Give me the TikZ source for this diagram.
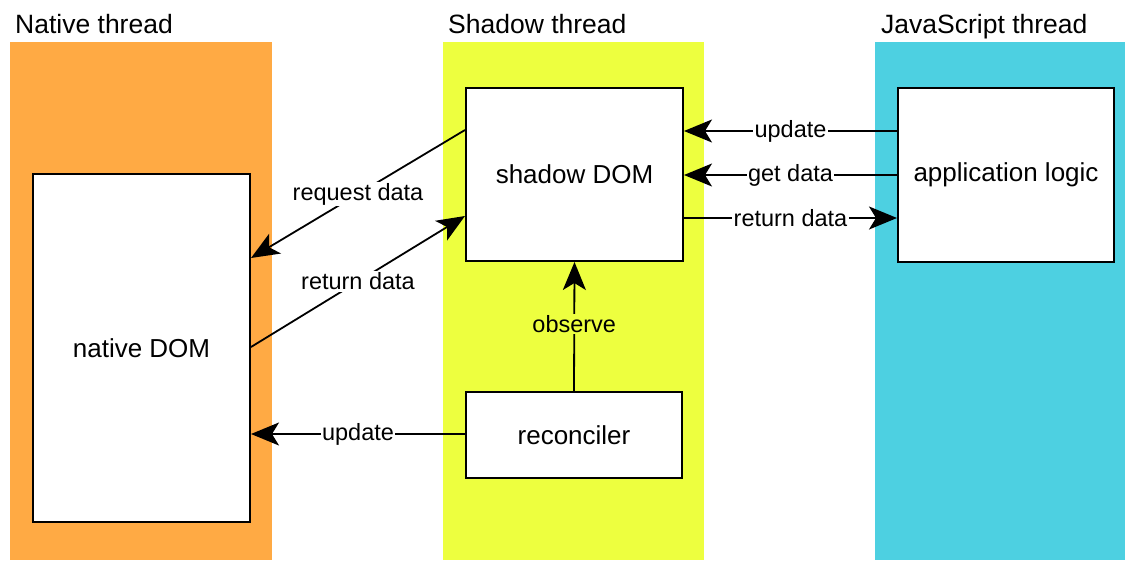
\documentclass[tikz,border=0pt]{standalone}
\usepackage{fontspec}
\setmainfont{Liberation Sans}
\usetikzlibrary{arrows.meta}
\definecolor{corange}{HTML}{FFAA44}
\definecolor{cyellow}{HTML}{EDFF3F}
\definecolor{ccyan}{HTML}{4DD0E1}
\tikzset{
  box/.style={draw=black, line width=2pt, fill=white, anchor=north west, inner sep=0pt,
    font=\fontsize{26}{30}\selectfont},
  title/.style={anchor=base west, inner sep=0pt, font=\fontsize{26.5}{30}\selectfont},
  conn/.style={line width=1.8pt, -{Stealth[length=28pt, width=23pt, inset=7pt]}},
  lbl/.style={fill=#1, inner sep=1.5pt, font=\fontsize{23.5}{28}\selectfont},
  lbl/.default=white
}
\begin{document}
\begin{tikzpicture}[x=1pt,y=-1pt]
\useasboundingbox (0,0) rectangle (1125,560);
% lanes
\fill[corange] (10,42) rectangle (272,560);
\fill[cyellow] (443,42) rectangle (704,560);
\fill[ccyan] (875,42) rectangle (1125,560);
% titles
\node[title] (t1) at (15,33) {Native thread};
\node[title] (t2) at (448,33) {Shadow thread};
\node[title] (t3) at (881,33) {JavaScript thread};
% boxes
\node[box, minimum width=217pt, minimum height=348pt] (native) at (32,173) {native DOM};
\node[box, minimum width=217pt, minimum height=173pt] (shadow) at (465,87) {shadow DOM};
\node[box, minimum width=216pt, minimum height=86pt] (recon) at (465,391) {reconciler};
\node[box, minimum width=216pt, minimum height=174pt] (app) at (897,87) {application logic};
% coordinates on box borders
\coordinate (sL1) at (shadow.north west |- 0,130);
\coordinate (sL2) at (shadow.north west |- 0,216);
\coordinate (nR1) at (native.north east |- 0,258);
\coordinate (nR2) at (native.north east |- 0,347);
\coordinate (nR3) at (native.north east |- 0,434);
\coordinate (rL) at (recon.west);
% connectors
\draw[conn] (sL1) -- node[lbl] {request data} (nR1);
\draw[conn] (nR2) -- node[lbl] {return data} (sL2);
\draw[conn] (rL |- nR3) -- node[lbl] {update} (nR3);
\draw[conn] (recon.north) -- node[lbl=cyellow, pos=0.52] {observe} (shadow.south);
\draw[conn] (app.west |- 0,131) -- node[lbl] {update} (shadow.east |- 0,131);
\draw[conn] (app.west |- 0,175) -- node[lbl] {get data} (shadow.east |- 0,175);
\draw[conn] (shadow.east |- 0,218) -- node[lbl] {return data} (app.west |- 0,218);
\end{tikzpicture}
\end{document}
